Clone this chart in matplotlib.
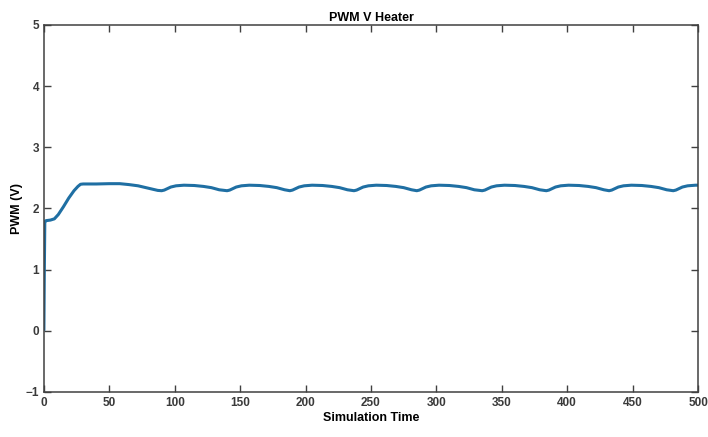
import matplotlib
matplotlib.use("Agg")
import matplotlib.pyplot as plt

plt.rcParams['font.family'] = ['Liberation Sans', 'DejaVu Sans']

sim_time = [0, 0.3, 0.7, 1.5, 5, 8, 11, 15, 19, 23, 26, 28, 30, 40, 50, 58, 65, 72, 78, 84, 87,
            90, 92, 94, 97, 101, 107, 115, 122, 128, 134,
            140, 142, 144, 147, 151, 157, 165, 172, 178, 184,
            188, 190, 192, 195, 199, 205, 213, 220, 226, 232,
            237, 239, 241, 244, 248, 254, 262, 269, 275, 281,
            285, 287, 289, 292, 296, 302, 310, 317, 323, 329,
            335, 337, 339, 342, 346, 352, 360, 367, 373, 379,
            384, 386, 388, 391, 395, 401, 409, 416, 422, 428,
            432, 434, 436, 439, 443, 449, 457, 464, 470, 476,
            481, 483, 485, 488, 492, 498, 500]
pwm = [0, 0.9, 1.78, 1.80, 1.81, 1.83, 1.90, 2.03, 2.17, 2.29, 2.36, 2.395, 2.40, 2.40, 2.405, 2.405, 2.39, 2.37, 2.34, 2.31, 2.295,
       2.29, 2.30, 2.32, 2.35, 2.37, 2.38, 2.375, 2.36, 2.34, 2.305,
       2.29, 2.30, 2.32, 2.35, 2.37, 2.38, 2.375, 2.36, 2.34, 2.305,
       2.29, 2.30, 2.32, 2.35, 2.37, 2.38, 2.375, 2.36, 2.34, 2.305,
       2.29, 2.30, 2.32, 2.35, 2.37, 2.38, 2.375, 2.36, 2.34, 2.305,
       2.29, 2.30, 2.32, 2.35, 2.37, 2.38, 2.375, 2.36, 2.34, 2.305,
       2.29, 2.30, 2.32, 2.35, 2.37, 2.38, 2.375, 2.36, 2.34, 2.305,
       2.29, 2.30, 2.32, 2.35, 2.37, 2.38, 2.375, 2.36, 2.34, 2.305,
       2.29, 2.30, 2.32, 2.35, 2.37, 2.38, 2.375, 2.36, 2.34, 2.305,
       2.29, 2.30, 2.32, 2.35, 2.37, 2.38, 2.38]

xticks = [0, 50, 100, 150, 200, 250, 300, 350, 400, 450, 500]
yticks = [-1, 0, 1, 2, 3, 4, 5]

fig = plt.figure(figsize=(7.08, 4.37), dpi=100)
ax = fig.add_axes([0.062, 0.103, 0.924, 0.840])
ax.plot(sim_time, pwm, color='#1f6fa3', linewidth=2.2,
        solid_joinstyle='round', solid_capstyle='butt')
ax.set_xlim(0, 500)
ax.set_ylim(-1, 5)
ax.set_xticks(xticks)
ax.set_yticks(yticks)
ax.tick_params(direction='in', length=5, width=1, colors='#404040', labelsize=8.5,
               top=True, right=True, labelcolor='#3a3a3a')
for lab in ax.get_xticklabels() + ax.get_yticklabels():
    lab.set_fontweight('bold')
for s in ax.spines.values():
    s.set_color('#404040')
    s.set_linewidth(1.1)
ax.set_title('PWM V Heater', fontsize=9, fontweight='bold', pad=3)
ax.set_xlabel('Simulation Time', fontsize=9, fontweight='bold', labelpad=2)
ax.set_ylabel('PWM (V)', fontsize=9, fontweight='bold', labelpad=2)

fig.savefig('out.png', dpi=100)
